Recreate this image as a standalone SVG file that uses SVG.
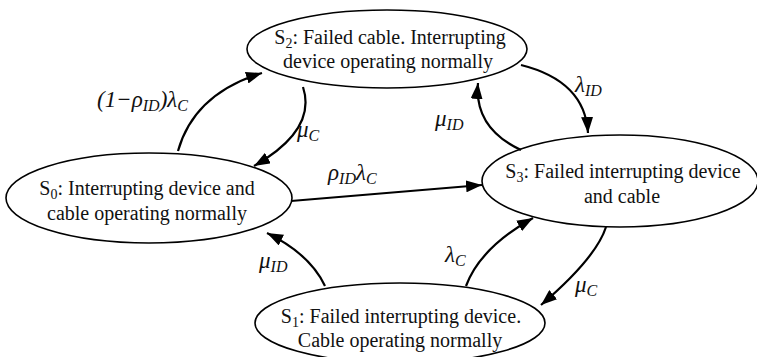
<svg xmlns="http://www.w3.org/2000/svg" width="757" height="357" viewBox="0 0 757 357" font-family="Liberation Serif, DejaVu Serif, serif">
<style>
.node ellipse{fill:#fff;stroke:#000;stroke-width:1.6}
.nt{font-size:20px;fill:#111;text-anchor:middle}
.lb{font-size:23px;font-style:italic;fill:#111}
.sb{font-size:14px}
.ls{font-size:16px}
.edge{fill:none;stroke:#000;stroke-width:2.2}
</style>
<defs>
<marker id="ah" viewBox="0 0 16 12" refX="16" refY="6" markerWidth="16" markerHeight="12" markerUnits="userSpaceOnUse" orient="auto">
<path d="M0,0 L16,6 L0,12 z" fill="#000"/>
</marker>
</defs>
<rect width="757" height="357" fill="#fff"/>
<g id="S2" class="node">
<ellipse cx="387" cy="49" rx="140" ry="39"/>
<text class="nt" x="390" y="44">S<tspan class="sb" dy="4">2</tspan><tspan dy="-4">: Failed cable. Interrupting</tspan></text>
<text class="nt" x="388" y="68">device operating normally</text>
</g>
<g id="S0" class="node">
<ellipse cx="149" cy="198" rx="143" ry="45"/>
<text class="nt" x="147" y="195">S<tspan class="sb" dy="4">0</tspan><tspan dy="-4">: Interrupting device and</tspan></text>
<text class="nt" x="147" y="220">cable operating normally</text>
</g>
<g id="S3" class="node">
<ellipse cx="620" cy="181" rx="138" ry="46"/>
<text class="nt" x="623" y="178">S<tspan class="sb" dy="4">3</tspan><tspan dy="-4">: Failed interrupting device</tspan></text>
<text class="nt" x="622" y="203">and cable</text>
</g>
<g id="S1" class="node">
<ellipse cx="400" cy="323" rx="145" ry="40"/>
<text class="nt" x="401" y="323">S<tspan class="sb" dy="4">1</tspan><tspan dy="-4">: Failed interrupting device.</tspan></text>
<text class="nt" x="400" y="347">Cable operating normally</text>
</g>
<g id="connectors">
<path class="edge" d="M178,151 Q194,94 262,73" marker-end="url(#ah)"/>
<path class="edge" d="M303,87 Q317,130 254,166" marker-end="url(#ah)"/>
<path class="edge" d="M521,65 Q585,81 588,133" marker-end="url(#ah)"/>
<path class="edge" d="M521,150 Q474,128 478,83" marker-end="url(#ah)"/>
<path class="edge" d="M291,201 L482,185" marker-end="url(#ah)"/>
<path class="edge" d="M325,286 Q310,254 267,233" marker-end="url(#ah)"/>
<path class="edge" d="M466,286 Q480,248 533,218" marker-end="url(#ah)"/>
<path class="edge" d="M606,227 Q596,258 541,305" marker-end="url(#ah)"/>
<text class="lb" x="97" y="107">(1−ρ<tspan class="ls" dy="4">ID</tspan><tspan dy="-4">)λ</tspan><tspan class="ls" dy="4">C</tspan></text>
<text class="lb" x="297" y="137">μ<tspan class="ls" dy="4">C</tspan></text>
<text class="lb" x="575" y="92">λ<tspan class="ls" dy="4">ID</tspan></text>
<text class="lb" x="435" y="126">μ<tspan class="ls" dy="4">ID</tspan></text>
<text class="lb" x="328" y="180">ρ<tspan class="ls" dy="4">ID</tspan><tspan dy="-4">λ</tspan><tspan class="ls" dy="4">C</tspan></text>
<text class="lb" x="259" y="268">μ<tspan class="ls" dy="4">ID</tspan></text>
<text class="lb" x="445" y="262">λ<tspan class="ls" dy="4">C</tspan></text>
<text class="lb" x="575" y="292">μ<tspan class="ls" dy="4">C</tspan></text>
</g>
</svg>
